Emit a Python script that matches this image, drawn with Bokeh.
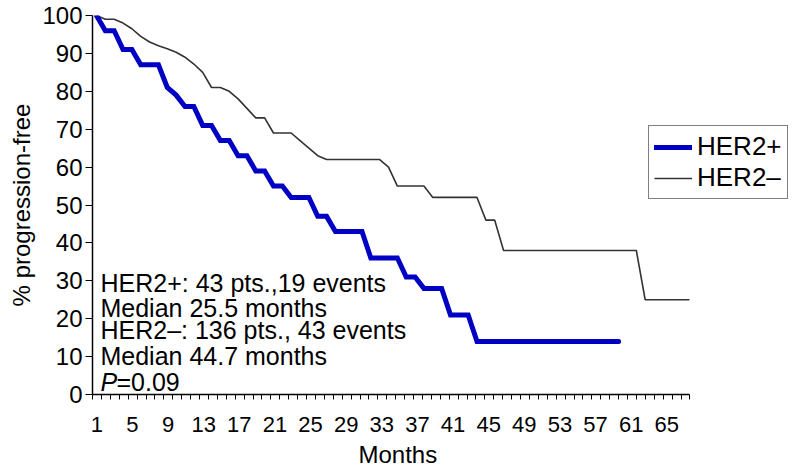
from bokeh.plotting import figure
from bokeh.models import Range1d, FixedTicker, CustomJSTickFormatter, Legend, LegendItem, Title
from bokeh.core.properties import value
from bokeh.embed import file_html
from bokeh.resources import INLINE

# ---- data ----
her2pos_month = [1, 2, 3, 4, 5, 6, 8, 9, 10, 11, 12, 13, 14, 15, 16, 17, 18, 19, 20, 21,
                 22, 23, 25, 26, 27, 28, 31, 32, 35, 36, 37, 38, 40, 41, 43, 44, 60]
her2pos_pct = [100, 96, 96, 91, 91, 87, 87, 81, 79, 76, 76, 71, 71, 67, 67, 63, 63, 59, 59, 55,
               55, 52, 52, 47, 47, 43, 43, 36, 36, 31, 31, 28, 28, 21, 21, 14, 14]

her2neg_month = [1, 2, 3, 4, 5, 6, 7, 8, 9, 10, 11, 12, 13, 14, 15, 16, 17, 18, 19, 20,
                 21, 22, 23, 24, 25, 26, 27, 33, 34, 35, 38, 39, 44, 45, 46, 47, 62, 63, 68]
her2neg_pct = [100, 99, 99, 98, 96.5, 94.5, 93, 92, 91.2, 90.3, 89, 87.2, 85, 81, 81, 80, 78, 75.5, 73, 73,
               69, 69, 69, 67, 65, 63, 62, 62, 60, 55, 55, 52, 52, 46, 46, 38, 38, 25, 25]

x_tick_months = [1, 5, 9, 13, 17, 21, 25, 29, 33, 37, 41, 45, 49, 53, 57, 61, 65]
x_tick_labels = ["1", "5", "9", "13", "17", "21", "25", "29", "33", "37", "41", "45",
                 "49", "53", "57", "61", "65"]
y_ticks = [0, 10, 20, 30, 40, 50, 60, 70, 80, 90, 100]

annotation_lines = ["HER2+: 43 pts.,19 events", "Median 25.5 months",
                    "HER2\u2013: 136 pts., 43 events", "Median 44.7 months"]
p_label = "P"
p_value = "=0.09"
x_title = "Months"
y_title = "% progression-free"

FONT = "Liberation Sans"
X0 = 0.55           # left end of the month axis
X_AXIS_END = 68.06  # right end of the drawn month axis
X_VIEW_END = 79.76  # frame extends to the page edge (room for the legend)
N_CAT = 67

p = figure(width=793, height=475, x_range=Range1d(X0, X_VIEW_END), y_range=Range1d(0, 100),
           output_backend="svg", toolbar_location=None,
           min_border_left=92, min_border_right=0, min_border_top=15, min_border_bottom=81)
p.outline_line_color = None
p.xgrid.grid_line_color = None
p.ygrid.grid_line_color = None
p.background_fill_color = "white"
p.border_fill_color = "white"

# x axis: category-style ticks between months, labels every 4 months
label_pos = [1.03 + (m - 1) * 1.00645 for m in x_tick_months]
minor_pos = [X0 + j * (X_AXIS_END - X0) / N_CAT for j in range(N_CAT + 1)]
xa = p.xaxis[0]
xa.bounds = (X0, X_AXIS_END)
xa.ticker = FixedTicker(ticks=label_pos, minor_ticks=minor_pos)
xa.formatter = CustomJSTickFormatter(args=dict(labels=x_tick_labels), code="return labels[index];")
xa.major_tick_line_color = None
xa.major_tick_out = 0
xa.major_tick_in = 0
xa.minor_tick_line_color = "black"
xa.minor_tick_line_width = 1
xa.minor_tick_out = 5
xa.minor_tick_in = 0
xa.axis_line_color = "black"
xa.axis_line_width = 1.5
xa.major_label_text_font = FONT
xa.major_label_text_font_size = "22px"
xa.major_label_text_color = "black"
xa.major_label_standoff = 17

# "Months" centred under the drawn axis (not the widened frame)
months_title = Title(text=x_title, align="left", offset=266, standoff=9,
                     text_font=FONT, text_font_size="24px", text_font_style="normal",
                     text_color="black")
p.add_layout(months_title, "below")

ya = p.yaxis[0]
ya.ticker = FixedTicker(ticks=y_ticks)
ya.minor_tick_line_color = None
ya.major_tick_line_color = "black"
ya.major_tick_line_width = 1
ya.major_tick_out = 7
ya.major_tick_in = 0
ya.axis_line_color = "black"
ya.axis_line_width = 1.5
ya.major_label_text_font = FONT
ya.major_label_text_font_size = "24px"
ya.major_label_text_color = "black"
ya.major_label_standoff = 3
ya.axis_label = y_title
ya.axis_label_text_font = FONT
ya.axis_label_text_font_size = "24px"
ya.axis_label_text_font_style = "normal"
ya.axis_label_text_color = "black"
ya.axis_label_standoff = 4

r_neg = p.line(her2neg_month, her2neg_pct, line_color="#333333", line_width=1.6)
r_pos = p.line(her2pos_month, her2pos_pct, line_color="#0000C4", line_width=5,
               line_cap="round", line_join="miter")

# annotation block
text_x = 1.45
baselines = [29.29, 22.94, 16.93, 10.05]
for t, yv in zip(annotation_lines, baselines):
    p.text(x=[text_x], y=[yv], text=[t], text_font=value(FONT), text_font_size="25px",
           text_baseline="alphabetic", text_align="left", text_color="black")
p.text(x=[text_x], y=[3.25], text=[p_label], text_font=value(FONT), text_font_size="25px",
       text_font_style="italic", text_baseline="alphabetic", text_align="left", text_color="black")
p.text(x=[text_x], y=[3.25], text=[p_value], text_font=value(FONT), text_font_size="25px",
       x_offset=16, text_baseline="alphabetic", text_align="left", text_color="black")

legend = Legend(items=[LegendItem(label="HER2+", renderers=[r_pos]),
                       LegendItem(label="HER2\u2013", renderers=[r_neg])],
                location=(556, 195), orientation="vertical",
                border_line_color="black", border_line_width=1.5,
                background_fill_color="white", background_fill_alpha=1.0,
                padding=5, spacing=0, margin=0,
                glyph_width=38, glyph_height=30, label_height=30, label_standoff=5,
                label_text_font=FONT, label_text_font_size="26px", label_text_color="black")
p.add_layout(legend)

open("out.html", "w").write(file_html(p, INLINE))
